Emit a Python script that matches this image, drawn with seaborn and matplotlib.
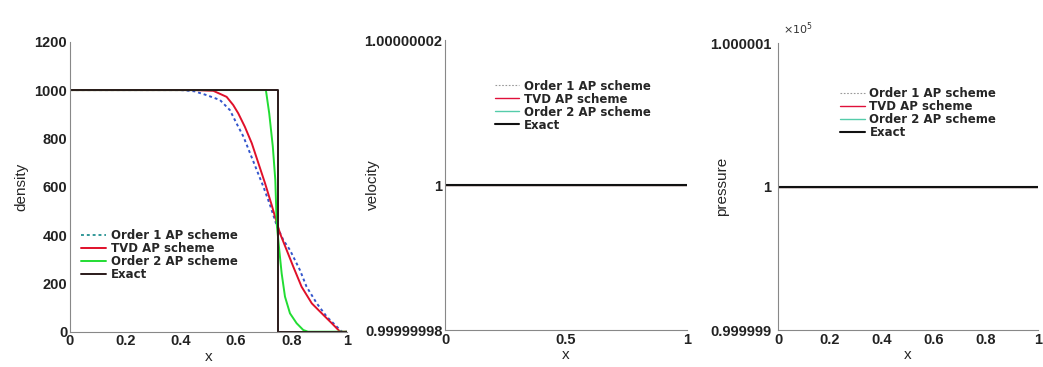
import numpy as np
import pandas as pd
import matplotlib
matplotlib.use("Agg")
import matplotlib.pyplot as plt
import seaborn as sns

# ---- data ----
x_order1 = [0.0, 0.40, 0.45, 0.494, 0.542, 0.578, 0.602, 0.627, 0.651, 0.675, 0.699, 0.723,
            0.747, 0.771, 0.795, 0.831, 0.855, 0.892, 0.928, 0.964, 0.982, 1.0]
rho_order1 = [1000, 1000, 995, 979, 959, 917, 862, 807, 738, 669, 600, 524,
              440, 379, 338, 255, 186, 117, 62, 21, 0, 0]
x_tvd = [0.0, 0.45, 0.518, 0.566, 0.590, 0.608, 0.632, 0.657, 0.681, 0.705, 0.729,
         0.741, 0.759, 0.783, 0.807, 0.837, 0.874, 0.916, 0.946, 0.976, 1.0]
rho_tvd = [1000, 1000, 997, 972, 938, 904, 848, 780, 697, 614, 524,
           476, 407, 338, 269, 186, 117, 69, 35, 0, 0]
x_order2 = [0.0, 0.708, 0.720, 0.733, 0.742, 0.747, 0.757, 0.765, 0.777, 0.795, 0.819, 0.843, 0.86, 1.0]
rho_order2 = [1000, 1000, 904, 766, 628, 448, 330, 241, 145, 76, 35, 7, 0, 0]
x_exact = [0.0, 0.75, 0.75, 1.0]
rho_exact = [1000, 1000, 0, 0]

x_flat = [0.0, 1.0]
velocity = [1.0, 1.0]
pressure = [1.0, 1.0]  # in units of 1e5

labels = ["Order 1 AP scheme", "TVD AP scheme", "Order 2 AP scheme", "Exact"]

sns.set_theme(style="white")
plt.rcParams["font.family"] = ["Liberation Sans", "DejaVu Sans"]

fig = plt.figure(figsize=(10.43, 3.67), dpi=100)
fig.patch.set_facecolor("white")

ax1 = fig.add_axes([0.0671, 0.0962, 0.2653, 0.790])
ax2 = fig.add_axes([0.4267, 0.1008, 0.232, 0.790])
ax3 = fig.add_axes([0.746, 0.1008, 0.249, 0.782])

def line(ax, xs, ys, **kw):
    sns.lineplot(x=xs, y=ys, ax=ax, estimator=None, sort=False, **kw)

def style(ax):
    for s in ["top", "right"]:
        ax.spines[s].set_visible(False)
    for s in ["left", "bottom"]:
        ax.spines[s].set_color("#888888")
        ax.spines[s].set_linewidth(0.8)
    ax.tick_params(axis="both", length=0, labelsize=10.5, pad=2, colors="#222222")
    for lbl in ax.get_xticklabels() + ax.get_yticklabels():
        lbl.set_fontweight("bold")

LEG = dict(loc="upper left", frameon=False, handlelength=2.1, labelspacing=0.0,
           handletextpad=0.4, borderaxespad=0, borderpad=0,
           prop={"family": "DejaVu Sans", "size": 8.5, "weight": "bold"})

# ---- panel 1: density ----
line(ax1, x_order1, rho_order1, color="#3355cc", lw=1.4, linestyle=(0, (1.5, 1.5)), label=labels[0])
line(ax1, x_tvd, rho_tvd, color="#e0102a", lw=1.4, label=labels[1])
line(ax1, x_order2, rho_order2, color="#22dd33", lw=1.4, label=labels[2])
line(ax1, x_exact, rho_exact, color="#2a1a1a", lw=1.4, label=labels[3])
ax1.set_xlim(0, 1)
ax1.set_ylim(0, 1200)
ax1.set_xticks([0, 0.2, 0.4, 0.6, 0.8, 1])
ax1.set_xticklabels(["0", "0.2", "0.4", "0.6", "0.8", "1"])
ax1.set_yticks([0, 200, 400, 600, 800, 1000, 1200])
ax1.set_xlabel("x", fontsize=11, labelpad=1)
ax1.set_ylabel("density", fontsize=11)
ax1.yaxis.set_label_coords(-0.152, 0.5)
leg1 = ax1.legend(bbox_to_anchor=(0.04, 0.355), **LEG)
leg1.get_lines()[0].set_color("#339999")
style(ax1)

# ---- panel 2: velocity ----
line(ax2, x_flat, velocity, color="#999999", lw=0.8, linestyle=(0, (1.5, 1.5)), label=labels[0])
line(ax2, x_flat, velocity, color="#e0103a", lw=1.0, label=labels[1])
line(ax2, x_flat, velocity, color="#55ccaa", lw=1.0, label=labels[2])
line(ax2, x_flat, velocity, color="#111111", lw=1.5, label=labels[3])
ax2.set_xlim(0, 1)
ax2.set_ylim(0.99999998, 1.00000002)
ax2.set_xticks([0, 0.5, 1])
ax2.set_xticklabels(["0", "0.5", "1"])
ax2.set_yticks([0.99999998, 1.0, 1.00000002])
ax2.set_yticklabels(["0.99999998", "1", "1.00000002"])
ax2.set_xlabel("x", fontsize=11, labelpad=1)
ax2.set_ylabel("velocity", fontsize=11)
ax2.yaxis.set_label_coords(-0.269, 0.5)
ax2.legend(bbox_to_anchor=(0.205, 0.864), **LEG)
style(ax2)

# ---- panel 3: pressure ----
line(ax3, x_flat, pressure, color="#999999", lw=0.8, linestyle=(0, (1.5, 1.5)), label=labels[0])
line(ax3, x_flat, pressure, color="#e0103a", lw=1.0, label=labels[1])
line(ax3, x_flat, pressure, color="#55ccaa", lw=1.0, label=labels[2])
line(ax3, x_flat, pressure, color="#111111", lw=1.5, label=labels[3])
ax3.set_xlim(0, 1)
ax3.set_ylim(0.999999, 1.000001)
ax3.set_xticks([0, 0.2, 0.4, 0.6, 0.8, 1])
ax3.set_xticklabels(["0", "0.2", "0.4", "0.6", "0.8", "1"])
ax3.set_yticks([0.999999, 1.0, 1.000001])
ax3.set_yticklabels(["0.999999", "1", "1.000001"])
ax3.set_xlabel("x", fontsize=11, labelpad=1)
ax3.set_ylabel("pressure", fontsize=11)
ax3.yaxis.set_label_coords(-0.188, 0.5)
ax3.text(0.02, 1.05, r"$\times10^{5}$", transform=ax3.transAxes, fontsize=8,
         ha="left", va="center", color="#333333")
ax3.legend(bbox_to_anchor=(0.238, 0.845), **LEG)
style(ax3)
ax3.tick_params(axis="y", pad=5)

fig.savefig("out.png", dpi=100, facecolor="white")
